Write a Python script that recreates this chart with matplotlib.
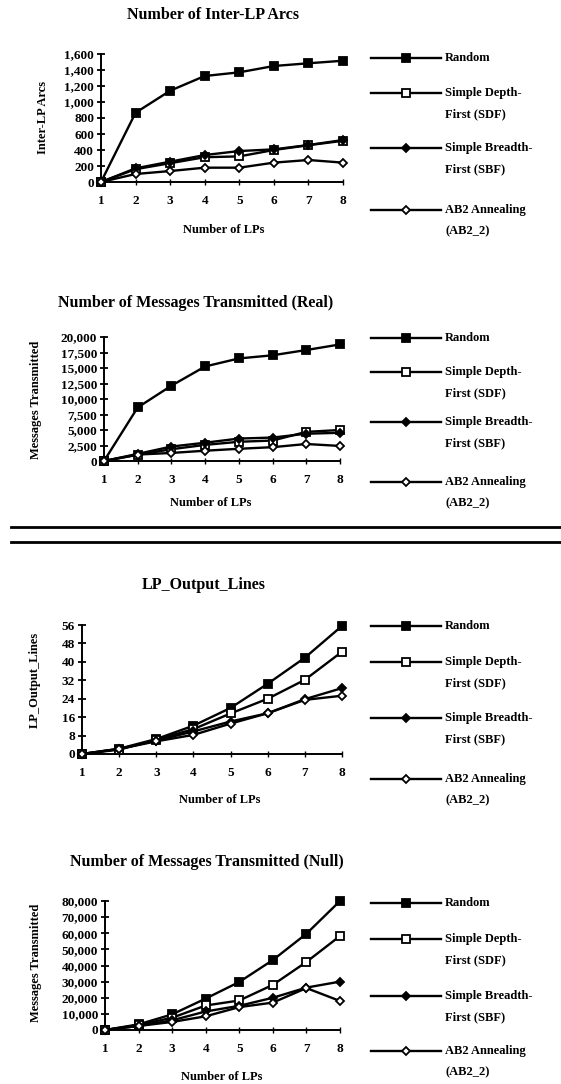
import matplotlib
matplotlib.use("Agg")
import matplotlib.pyplot as plt
from matplotlib.lines import Line2D
from matplotlib.ticker import FuncFormatter

# --- data ---
lps = [1, 2, 3, 4, 5, 6, 7, 8]

random_arcs = [0, 866, 1141, 1325, 1371, 1450, 1484, 1516]
sdf_arcs = [0, 160, 235, 310, 320, 400, 460, 515]
sbf_arcs = [0, 171, 254, 337, 387, 408, 462, 525]
ab2_arcs = [0, 100, 137, 179, 179, 242, 275, 242]

random_real = [0, 8640, 12150, 15250, 16540, 17050, 17900, 18800]
sdf_real = [0, 1000, 1900, 2600, 3100, 3300, 4700, 5000]
sbf_real = [0, 1150, 2330, 2950, 3620, 3780, 4400, 4550]
ab2_real = [0, 1040, 1300, 1660, 1970, 2230, 2740, 2430]

random_lines = [0, 2.3, 6.5, 12.3, 20.0, 30.5, 41.8, 55.6]
sdf_lines = [0, 1.9, 6.2, 10.8, 17.6, 24.0, 32.2, 44.4]
sbf_lines = [0, 2.2, 5.8, 9.8, 14.1, 17.7, 23.8, 28.6]
ab2_lines = [0, 2.2, 5.5, 8.3, 13.2, 17.7, 23.5, 25.3]

random_null = [0, 3500, 9700, 19500, 29800, 43400, 59700, 80000]
sdf_null = [0, 3100, 7600, 15200, 18300, 28000, 42200, 58300]
sbf_null = [0, 2500, 6000, 11500, 15000, 20000, 26300, 30000]
ab2_null = [0, 2500, 5000, 8500, 14200, 17000, 26000, 18000]

series_labels = [("Random",), ("Simple Depth-", "First (SDF)"),
                 ("Simple Breadth-", "First (SBF)"), ("AB2 Annealing", "(AB2_2)")]

W, H = 561, 1084
FONT = "Liberation Serif"
plt.rcParams["font.family"] = [FONT, "DejaVu Serif"]
plt.rcParams["font.weight"] = "bold"

fig = plt.figure(figsize=(W / 100, H / 100), dpi=100)


def fx(x):
    return x / W


def fy(y):
    return 1 - y / H


styles = [
    dict(marker="s", markersize=6, markerfacecolor="black"),
    dict(marker="s", markersize=6, markerfacecolor="white"),
    dict(marker="D", markersize=4.5, markerfacecolor="black"),
    dict(marker="D", markersize=4.5, markerfacecolor="white"),
]


def panel(box, ymax, ystep, data, title, title_pos, ylabel, ylabel_pos,
          xlabel_pos, legend_y):
    x1, x8, top, bottom = box
    ax = fig.add_axes([fx(x1), fy(bottom), fx(x8 - x1), (bottom - top) / H])
    for vals, st in zip(data, styles):
        ax.plot(lps, vals, color="black", lw=1.7, markeredgecolor="black",
                markeredgewidth=1.3, clip_on=False, zorder=3, **st)
    ax.set_xlim(1, 8)
    ax.set_ylim(0, ymax)
    ax.set_xticks(lps)
    ax.set_yticks(range(0, ymax + 1, ystep))
    ax.yaxis.set_major_formatter(FuncFormatter(lambda v, p: f"{int(v):,}"))
    for s in ["top", "right"]:
        ax.spines[s].set_visible(False)
    for s in ["left", "bottom"]:
        ax.spines[s].set_linewidth(1.4)
    ax.tick_params(axis="y", direction="inout", length=6, width=1.3, pad=2,
                   labelsize=9.5)
    ax.tick_params(axis="x", direction="inout", length=5, width=1.0, pad=7,
                   labelsize=9.5)
    for lab in ax.get_xticklabels() + ax.get_yticklabels():
        lab.set_fontweight("bold")

    fig.text(fx(title_pos[0]), fy(title_pos[1]), title, ha="center",
             va="center", fontsize=11.5, fontweight="bold")
    fig.text(fx(ylabel_pos[0]), fy(ylabel_pos[1]), ylabel, ha="center",
             va="center", rotation=90, fontsize=9, fontweight="bold")
    fig.text(fx(xlabel_pos[0]), fy(xlabel_pos[1]), "Number of LPs",
             ha="center", va="center", fontsize=9, fontweight="bold")

    # legend drawn beside the plot
    for lines, st, y in zip(series_labels, styles, legend_y):
        fig.add_artist(Line2D([fx(371), fx(441)], [fy(y), fy(y)],
                              color="black", lw=1.7))
        fig.add_artist(Line2D([fx(406)], [fy(y)], color="black",
                              markeredgecolor="black", markeredgewidth=1.3,
                              marker=st["marker"],
                              markersize=st["markersize"] - 0.5,
                              markerfacecolor=st["markerfacecolor"]))
        for i, txt in enumerate(lines):
            fig.text(fx(445), fy(y + 21 * i), txt, ha="left", va="center",
                     fontsize=9, fontweight="bold")
    return ax


panel((101, 343, 54, 182), 1600, 200,
      [random_arcs, sdf_arcs, sbf_arcs, ab2_arcs],
      "Number of Inter-LP Arcs", (213, 15), "Inter-LP Arcs", (43, 117),
      (224, 230), [58, 93, 148, 210])

panel((104, 340, 337, 461), 20000, 2500,
      [random_real, sdf_real, sbf_real, ab2_real],
      "Number of Messages Transmitted (Real)", (196, 303),
      "Messages Transmitted", (36, 400), (211, 503), [338, 372, 422, 482])

panel((82, 342, 625, 754), 56, 8,
      [random_lines, sdf_lines, sbf_lines, ab2_lines],
      "LP_Output_Lines", (204, 585), "LP_Output_Lines", (35, 680),
      (220, 800), [626, 662, 718, 779])

panel((105, 340, 901, 1030), 80000, 10000,
      [random_null, sdf_null, sbf_null, ab2_null],
      "Number of Messages Transmitted (Null)", (207, 862),
      "Messages Transmitted", (36, 963), (222, 1077), [903, 939, 996, 1051])

# separator rules between the two halves of the page
for y in (527, 542):
    fig.add_artist(Line2D([fx(11), 1], [fy(y), fy(y)], color="black", lw=2))

fig.savefig("out.png", dpi=100, facecolor="white")
